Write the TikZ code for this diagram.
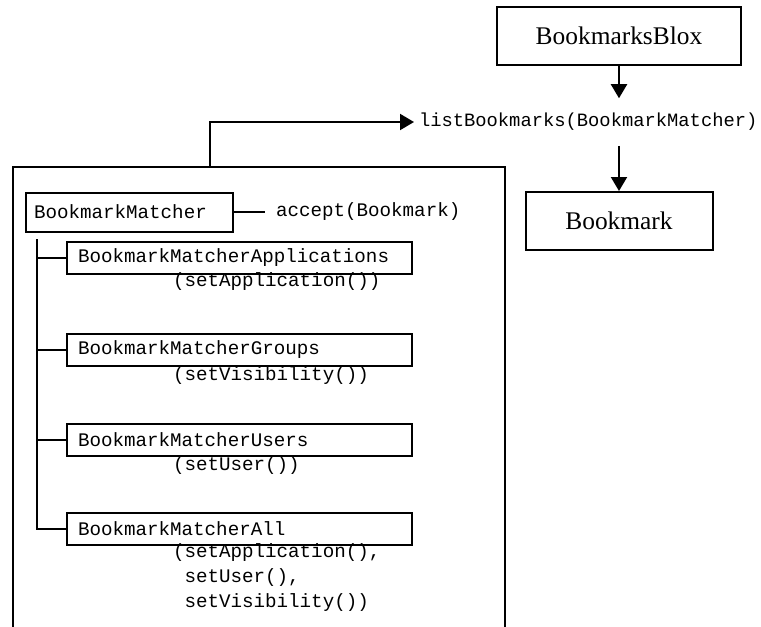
\documentclass[tikz,border=0pt]{standalone}
\usepackage{fontspec}
\setmainfont{Liberation Serif}
\newfontfamily\codefont{Liberation Mono}
\usetikzlibrary{positioning, arrows.meta}

\begin{document}
\begin{tikzpicture}[x=0.5pt, y=-0.5pt, line width=1pt,
  cls/.style={draw, rectangle, font=\fontsize{12.7}{15}\selectfont, minimum height=29pt},
  code/.style={font=\fontsize{9.6}{12.5}\selectfont\codefont, inner sep=0pt, align=left},
  sub/.style={draw, rectangle, code, anchor=west, inner xsep=5.5pt, inner ysep=1pt, text width=161.5pt, minimum height=16pt},
  call/.style={-{Triangle[width=8pt,length=7pt]}}]
\useasboundingbox (0,0) rectangle (761,627);

\node[cls, minimum width=122pt](blox) at (619,36) {BookmarksBlox};
\node[code, font=\fontsize{9.4}{12}\selectfont\codefont, anchor=west, inner xsep=2pt, inner ysep=7pt] (listb) at (414,122) {listBookmarks(BookmarkMatcher)};
\node[cls, minimum width=93.5pt] (bm) at (619,221) {Bookmark};
\draw[call] (blox.south) -- (blox.south |- listb.north);
\draw[call] (bm.north |- listb.south) -- (bm.north);

\coordinate (frametop) at (210,167);
\draw (13,628) -- (13,167) -- (505,167) -- (505,628);
\draw[call] (frametop) |- (listb.west);

\node[sub, text width=95.5pt, inner xsep=4pt, minimum height=19.5pt] (matcher) at (25,212) {BookmarkMatcher};
\node[code, anchor=west, inner xsep=5pt] (accept) at (265,212) {accept(Bookmark)};
\draw (matcher.east) -- (accept.west);

\node[sub] (apps) at (66,258) {BookmarkMatcherApplications};
\node[sub] (groups) at (66,349.5) {BookmarkMatcherGroups};
\node[sub] (users) at (66,440) {BookmarkMatcherUsers};
\node[sub] (all) at (66,528.5) {BookmarkMatcherAll};

\node[code, anchor=base west] (appsm) at (172,286) {(setApplication())};
\node[code, anchor=base west] (groupsm) at (172,380) {(setVisibility())};
\node[code, anchor=base west] (usersm) at (172,470) {(setUser())};
\node[code, anchor=base west] (allm) at (172,607) {(setApplication(),\\\phantom{(}setUser(),\\\phantom{(}setVisibility())};

\coordinate (trunk) at (37,239);
\draw (trunk) |- (all.west);
\draw (trunk |- apps.west) -- (apps.west);
\draw (trunk |- groups.west) -- (groups.west);
\draw (trunk |- users.west) -- (users.west);
\end{tikzpicture}
\end{document}
